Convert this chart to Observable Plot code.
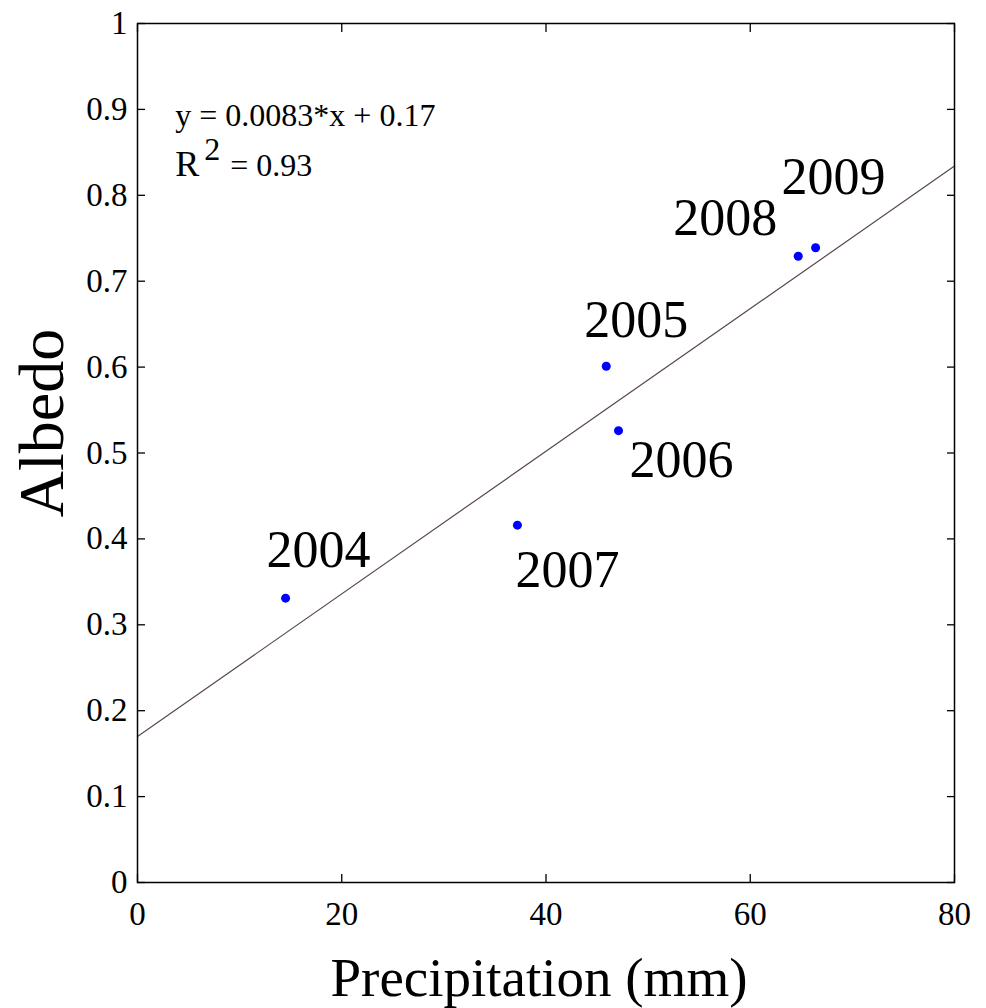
<!DOCTYPE html>
<html>
<head>
<meta charset="utf-8">
<script src="https://cdn.jsdelivr.net/npm/d3@7"></script>
<script src="https://cdn.jsdelivr.net/npm/@observablehq/plot@0.6"></script>
<style>
  html, body { margin: 0; padding: 0; background: #ffffff; }
  #chart svg { display: block; }
</style>
</head>
<body>
<div id="chart"></div>
<script>
// Annual precipitation vs. albedo
const years = ["2004", "2005", "2006", "2007", "2008", "2009"];
const precipitation = [14.5, 45.9, 47.1, 37.2, 64.7, 66.4];
const albedo = [0.331, 0.601, 0.526, 0.416, 0.729, 0.739];

// Fitted line as stated in the annotation
const slope = 0.0083;
const intercept = 0.17;
const equationText = "y = 0.0083*x + 0.17";
const r2Text = "R2 = 0.93";

// Axis ticks
const xTicks = [0, 20, 40, 60, 80];
const yTicks = [0, 0.1, 0.2, 0.3, 0.4, 0.5, 0.6, 0.7, 0.8, 0.9, 1];
const yTickLabels = ["0", "0.1", "0.2", "0.3", "0.4", "0.5", "0.6", "0.7", "0.8", "0.9", "1"];

// Year label placement relative to each point (pixels)
const labelDx = [33, 30, 63, 50, -73, 18];
const labelDy = [-31, -29, 46, 62, -21, -54];

const points = years.map((year, i) => ({year, x: precipitation[i], y: albedo[i], dx: labelDx[i], dy: labelDy[i]}));
const fit = d3.extent(xTicks).map(x => ({x, y: slope * x + intercept}));

const serif = "Liberation Serif, Times New Roman, serif";

const chart = Plot.plot({
  width: 986,
  height: 1008,
  marginLeft: 137,
  marginRight: 32,
  marginTop: 23,
  marginBottom: 126,
  style: {fontFamily: serif, background: "#ffffff", color: "#000000", overflow: "visible"},
  x: {domain: [0, 80]},
  y: {domain: [0, 1]},
  marks: [
    Plot.axisX(xTicks, {anchor: "bottom", tickSize: -8, tickPadding: 27, fontSize: 33, fontFamily: serif, label: null, tickFormat: d => String(d), strokeWidth: 1.3}),
    Plot.axisX(xTicks, {anchor: "top", tickSize: -8, tickFormat: () => "", label: null, strokeWidth: 1.3}),
    Plot.axisY(yTicks, {anchor: "left", tickSize: -8, tickPadding: 18, fontSize: 33, fontFamily: serif, label: null, tickFormat: d => yTickLabels[yTicks.indexOf(d)], strokeWidth: 1.3}),
    Plot.axisY(yTicks, {anchor: "right", tickSize: -8, tickFormat: () => "", label: null, strokeWidth: 1.3}),
    Plot.line(fit, {x: "x", y: "y", stroke: "#5a4652", strokeWidth: 1.2}),
    Plot.dot(points, {x: "x", y: "y", r: 4.5, fill: "#0000ff", stroke: null}),
    ...points.map(p => Plot.text([p], {x: "x", y: "y", text: "year", dx: p.dx, dy: p.dy, lineAnchor: "bottom", textAnchor: "middle", fontSize: 52, fontFamily: serif, fill: "#000000"})),
    Plot.text([equationText], {x: 3.7, y: 0.881, text: d => d, textAnchor: "start", lineAnchor: "bottom", fontSize: 32, fontFamily: serif, fill: "#000000"}),
    Plot.text([r2Text], {x: 3.7, y: 0.822, text: d => d, textAnchor: "start", lineAnchor: "bottom", fontSize: 32, fontFamily: serif, fill: "#000000"}),
    Plot.text(["Precipitation (mm)"], {frameAnchor: "bottom", text: d => d, dx: -7, dy: 113, lineAnchor: "bottom", textAnchor: "middle", fontSize: 55, fontFamily: serif, fill: "#000000"}),
    Plot.text(["Albedo"], {frameAnchor: "left", text: d => d, dx: -75, dy: -30, rotate: -90, lineAnchor: "bottom", textAnchor: "middle", fontSize: 64, fontFamily: serif, fill: "#000000"}),
    Plot.frame({stroke: "#000000", strokeWidth: 1.5})
  ]
});

// Render the R² label with a raised exponent
chart.querySelectorAll("text").forEach(t => {
  if (t.textContent === r2Text) {
    const host = t.querySelector("tspan") || t;
    host.textContent = "";
    const ns = "http://www.w3.org/2000/svg";
    const base = document.createElementNS(ns, "tspan");
    base.textContent = "R";
    base.setAttribute("font-size", "36");
    const sup = document.createElementNS(ns, "tspan");
    sup.textContent = "2";
    sup.setAttribute("dx", "5");
    sup.setAttribute("dy", "-16");
    const rest = document.createElementNS(ns, "tspan");
    rest.textContent = "= 0.93";
    rest.setAttribute("dx", "10");
    rest.setAttribute("dy", "16");
    host.append(base, sup, rest);
  }
});

document.getElementById("chart").append(chart);
</script>
</body>
</html>
